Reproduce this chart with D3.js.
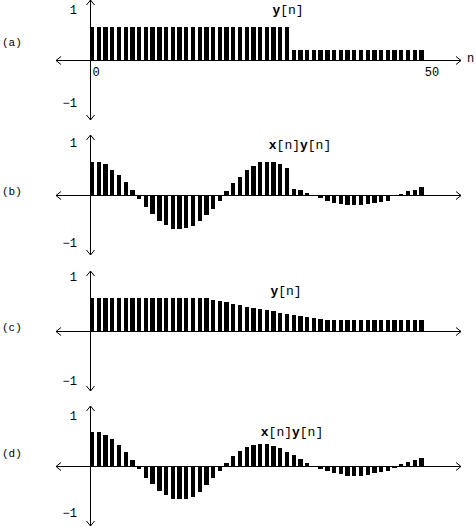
<!DOCTYPE html>
<html>
<head>
<meta charset="utf-8">
<script src="https://cdn.jsdelivr.net/npm/d3@7"></script>
<style>
  html, body { margin: 0; padding: 0; background: #fff; }
  svg { display: block; }
  text { font-family: "Liberation Mono", "DejaVu Sans Mono", monospace; fill: #000; }
</style>
</head>
<body>
<svg id="chart" width="476" height="527"></svg>
<script>
// ---------- data ----------
const samples = d3.range(50); // n = 0 .. 49

const seriesA = [
  0.70,0.70,0.70,0.70,0.70,0.70,0.70,0.70,0.70,0.70,
  0.70,0.70,0.70,0.70,0.70,0.70,0.70,0.70,0.70,0.70,
  0.70,0.70,0.70,0.70,0.70,0.70,0.70,0.70,0.70,0.70,
  0.21,0.21,0.21,0.21,0.21,0.21,0.21,0.21,0.21,0.21,
  0.21,0.21,0.21,0.21,0.21,0.21,0.21,0.21,0.21,0.21
];
const seriesB = [
  0.71,0.70,0.65,0.54,0.43,0.28,0.11,-0.09,-0.25,-0.40,
  -0.55,-0.63,-0.72,-0.72,-0.71,-0.66,-0.56,-0.42,-0.29,-0.12,
  0.09,0.26,0.39,0.53,0.62,0.71,0.71,0.71,0.67,0.57,
  0.13,0.10,0.05,0.00,-0.07,-0.12,-0.16,-0.19,-0.21,-0.22,
  -0.22,-0.20,-0.16,-0.14,-0.12,-0.03,0.03,0.08,0.11,0.16
];
const seriesC = [
  0.71,0.71,0.71,0.71,0.71,0.71,0.71,0.71,0.71,0.71,
  0.71,0.71,0.71,0.71,0.71,0.71,0.71,0.70,0.67,0.645,
  0.62,0.58,0.55,0.52,0.49,0.475,0.44,0.42,0.38,0.355,
  0.33,0.31,0.30,0.28,0.26,0.23,0.23,0.23,0.23,0.23,
  0.23,0.23,0.23,0.23,0.23,0.23,0.23,0.23,0.23,0.23
];
const seriesD = [
  0.72,0.72,0.66,0.57,0.45,0.29,0.12,-0.07,-0.25,-0.38,
  -0.53,-0.62,-0.70,-0.70,-0.70,-0.65,-0.55,-0.40,-0.26,-0.11,
  0.06,0.21,0.31,0.40,0.45,0.46,0.46,0.43,0.39,0.29,
  0.23,0.15,0.06,0.00,-0.07,-0.11,-0.14,-0.18,-0.21,-0.21,
  -0.21,-0.19,-0.15,-0.13,-0.11,-0.04,0.04,0.08,0.12,0.16
];

const panelLabels = ["(a)", "(b)", "(c)", "(d)"];
const titleParts = [
  [["y", true], ["[n]", false]],
  [["x", true], ["[n]", false], ["y", true], ["[n]", false]],
  [["y", true], ["[n]", false]],
  [["x", true], ["[n]", false], ["y", true], ["[n]", false]]
];
const yTickValues = [1, -1];
const yTickLabels = ["1", "\u22121"];
const xTickValues = [0, 50];
const xTickLabels = ["0", "50"];
const xAxisName = "n";

// ---------- layout ----------
const layout = [
  { axisY: 60,  labelY: 46,  titleX: 288, titleY: 14,  tickDy: [-46, 47] },
  { axisY: 195, labelY: 195, titleX: 300, titleY: 149, tickDy: [-48, 52] },
  { axisY: 331, labelY: 331, titleX: 286, titleY: 295, tickDy: [-50, 54] },
  { axisY: 466, labelY: 457, titleX: 292, titleY: 436, tickDy: [-46, 51] }
];
const series = [seriesA, seriesB, seriesC, seriesD];

const svg = d3.select("#chart");
const xs = d3.scaleLinear().domain([0, 50]).range([90, 426]);
const barW = 4.3;
const hLeft = 56, hRight = 461;

layout.forEach((p, i) => {
  const ys = d3.scaleLinear().domain([-1, 1]).range([p.axisY + 47, p.axisY - 47]);
  const g = svg.append("g");
  const data = samples.map(n => ({ n, v: series[i][n] }));

  // bars
  g.selectAll("rect").data(data).enter().append("rect")
    .attr("x", d => xs(d.n))
    .attr("width", barW)
    .attr("y", d => Math.min(ys(d.v), ys(0)))
    .attr("height", d => Math.abs(ys(d.v) - ys(0)))
    .attr("fill", "#000")
    .attr("shape-rendering", "crispEdges");

  const ay = Math.round(ys(0)) + 0.5;
  const ax = Math.round(xs(0)) + 0.5;
  const line = d3.line();
  const axisStyle = sel => sel.attr("fill", "none").attr("stroke", "#000").attr("stroke-width", 1);

  // horizontal axis with open arrowheads
  g.append("path").attr("d", line([[hLeft, ay], [hRight, ay]])).call(axisStyle);
  g.append("path").attr("d", line([[hLeft + 5, ay - 4], [hLeft, ay], [hLeft + 5, ay + 4]])).call(axisStyle);
  g.append("path").attr("d", line([[hRight - 5, ay - 4], [hRight, ay], [hRight - 5, ay + 4]])).call(axisStyle);

  // vertical axis with open arrowheads
  const vTop = p.axisY - 60, vBot = p.axisY + 60;
  g.append("path").attr("d", line([[ax, vTop], [ax, vBot]])).call(axisStyle);
  g.append("path").attr("d", line([[ax - 4, vTop + 5], [ax, vTop], [ax + 4, vTop + 5]])).call(axisStyle);
  g.append("path").attr("d", line([[ax - 4, vBot - 5], [ax, vBot], [ax + 4, vBot - 5]])).call(axisStyle);

  // y tick labels
  yTickValues.forEach((v, k) => {
    g.append("text")
      .attr("x", 77)
      .attr("y", ys(0) + p.tickDy[k])
      .attr("text-anchor", "end")
      .attr("font-size", 12)
      .text(yTickLabels[k]);
  });

  // panel label
  g.append("text")
    .attr("x", 2)
    .attr("y", p.labelY)
    .attr("font-size", 11)
    .text(panelLabels[i]);

  // title
  const t = g.append("text")
    .attr("x", p.titleX)
    .attr("y", p.titleY)
    .attr("text-anchor", "middle")
    .attr("font-size", 13);
  titleParts[i].forEach(([s, b]) => {
    t.append("tspan").attr("font-weight", b ? "bold" : "normal").text(s);
  });

  if (i === 0) {
    xTickValues.forEach((v, k) => {
      g.append("text")
        .attr("x", xs(v) + 6)
        .attr("y", ys(0) + 16)
        .attr("text-anchor", "middle")
        .attr("font-size", 12)
        .text(xTickLabels[k]);
    });
    g.append("text")
      .attr("x", 467)
      .attr("y", ys(0) + 2)
      .attr("font-size", 12)
      .text(xAxisName);
  }
});
</script>
</body>
</html>
